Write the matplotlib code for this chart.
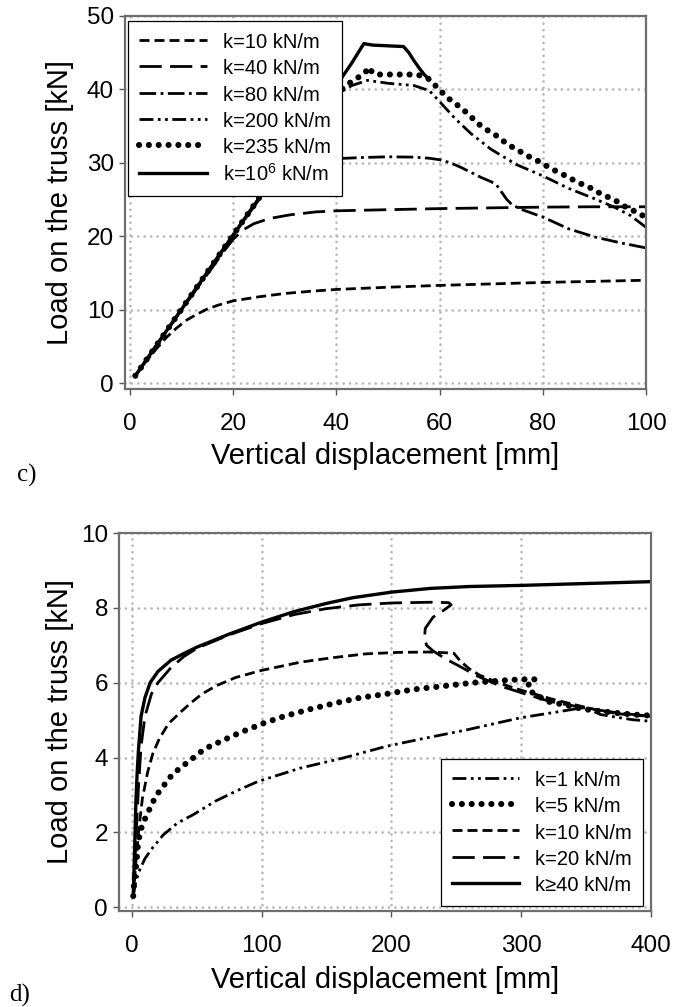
import matplotlib
matplotlib.use("Agg")
import matplotlib.pyplot as plt

plt.rcParams["font.family"] = ["Liberation Sans", "DejaVu Sans"]
plt.rcParams["mathtext.fontset"] = "custom"
plt.rcParams["mathtext.rm"] = "Liberation Sans"
plt.rcParams["mathtext.default"] = "regular"

# ---- panel c) : load vs displacement, x in mm, y in kN ----
c_k10_x = [1, 3, 5, 7, 9, 11, 13, 15, 17, 20, 25, 30, 35, 40, 50, 60, 70, 80, 90, 100]
c_k10_y = [1, 2.9, 4.6, 6.2, 7.5, 8.6, 9.4, 10.1, 10.6, 11.2, 11.75, 12.2, 12.5, 12.75,
           13.05, 13.3, 13.5, 13.7, 13.85, 14.0]

c_k40_x = [1, 5, 10, 14, 16, 18, 20, 22, 24, 27, 31, 36, 40, 50, 60, 70, 80, 90, 100]
c_k40_y = [1, 5, 10, 13.9, 15.8, 17.8, 19.6, 20.9, 21.7, 22.4, 22.9, 23.3, 23.45, 23.6,
           23.75, 23.85, 23.95, 24.0, 24.0]

c_k80_x = [1, 5, 10, 15, 20, 25, 28, 31, 35, 40, 45, 50, 55, 58, 60, 62, 64, 66, 68, 70,
           71, 72, 73, 74, 76, 80, 85, 90, 95, 100]
c_k80_y = [1, 5.05, 10.1, 15.1, 20.1, 25, 27.9, 29.4, 30.2, 30.55, 30.7, 30.8, 30.75, 30.6,
           30.4, 30.0, 29.4, 28.7, 28.0, 27.4, 27.0, 26.0, 25.0, 24.3, 23.6, 22.6, 21.0,
           19.9, 19.1, 18.4]

c_k200_x = [1, 5, 10, 15, 20, 25, 30, 35, 40, 43, 46, 48, 50, 55, 58, 60, 63, 66, 70, 75,
            80, 85, 90, 94, 97, 100]
c_k200_y = [1, 5.05, 10.1, 15.15, 20.2, 25.2, 30.2, 35.1, 39.3, 40.5, 41.2, 41.0, 40.8,
            40.5, 39.8, 38.3, 36.0, 34.0, 31.8, 29.7, 28.2, 26.5, 25.1, 23.9, 22.8, 21.2]

c_k235_x = [1, 5, 10, 15, 20, 25, 30, 35, 40, 42, 44, 45.5, 46.3, 47, 48, 50, 52, 54, 56,
            57.7, 59.75, 61.4, 63.5, 65.6, 67.25, 69.3, 71.4, 73.1, 75.2, 76.8, 78.9, 80.6,
            82.7, 84.75, 86.8, 88.9, 90.6, 92.7, 94.75, 96.4, 98.5, 100]
c_k235_y = [1, 5.05, 10.1, 15.15, 20.2, 25.2, 30.2, 35.1, 39.3, 40.6, 41.5, 42.2, 43.0,
            42.2, 42.0, 42.0, 42.0, 42.0, 41.9, 41.5, 40.1, 38.9, 37.8, 36.6, 35.4, 34.4,
            33.5, 32.5, 31.7, 31.0, 30.3, 29.6, 28.8, 28.1, 27.3, 26.7, 26.0, 25.3, 24.6,
            23.8, 23.2, 22.5]

c_k1e6_x = [1, 5, 10, 15, 20, 25, 30, 35, 40, 43, 45.3, 47, 50, 53, 54, 55, 56, 57, 58]
c_k1e6_y = [1, 5.05, 10.1, 15.15, 20.2, 25.2, 30.3, 35.4, 40.5, 43.6, 46.2, 46.0, 45.9,
            45.8, 45.0, 43.9, 42.9, 42.0, 41.3]

c_labels = ["k=10 kN/m", "k=40 kN/m", "k=80 kN/m", "k=200 kN/m", "k=235 kN/m",
            "k=10$^{6}$ kN/m"]

# ---- panel d) ----
d_k1_x = [1, 3, 6, 10, 15, 24, 35, 47, 64, 80, 97, 130, 163, 196, 222, 258, 299, 335,
          347, 355, 361, 373, 386, 400]
d_k1_y = [0.3, 0.7, 1.0, 1.3, 1.55, 1.93, 2.25, 2.47, 2.83, 3.1, 3.36, 3.72, 3.99, 4.3,
          4.49, 4.74, 5.06, 5.26, 5.33, 5.25, 5.15, 5.08, 5.01, 4.97]

d_k5_x = [1, 1.6, 3.5, 4.3, 6, 8.3, 11.6, 15, 19, 24, 30, 37, 44, 52, 60, 69, 77, 85, 93,
          100, 117, 137, 156, 176, 196, 217, 240, 263, 286, 300, 311, 305, 308, 320, 335,
          347, 361, 374, 386, 400]
d_k5_y = [0.3, 0.67, 1.2, 1.57, 1.97, 2.24, 2.47, 2.74, 3.0, 3.23, 3.5, 3.72, 3.9, 4.13,
          4.3, 4.44, 4.57, 4.69, 4.8, 4.9, 5.1, 5.29, 5.45, 5.6, 5.7, 5.82, 5.91, 6.0, 6.06,
          6.09, 6.09, 5.93, 5.75, 5.5, 5.4, 5.3, 5.24, 5.19, 5.15, 5.12]

d_k10_x = [1, 3, 5, 8, 12, 16, 21, 28, 37, 45, 54, 65, 80, 100, 130, 155, 180, 205, 229,
           248, 253, 260, 268, 280, 295, 310, 325, 345, 365, 380, 400]
d_k10_y = [0.3, 1.2, 2.0, 2.9, 3.6, 4.1, 4.5, 4.9, 5.2, 5.45, 5.7, 5.92, 6.14, 6.33, 6.55,
           6.67, 6.77, 6.81, 6.82, 6.79, 6.58, 6.37, 6.2, 6.03, 5.85, 5.7, 5.55, 5.38, 5.22,
           5.15, 5.1]

d_k20_x = [1, 3, 5, 7, 10, 15, 20, 30, 40, 50, 75, 100, 125, 150, 175, 200, 230, 244, 246,
           240, 232, 226, 225.5, 227, 232, 242, 253, 266, 284, 304, 322, 348, 373, 400]
d_k20_y = [0.3, 1.8, 3.2, 4.3, 5.1, 5.7, 6.0, 6.4, 6.7, 6.92, 7.28, 7.58, 7.82, 7.98, 8.08,
           8.13, 8.15, 8.14, 8.08, 7.93, 7.75, 7.45, 7.2, 7.0, 6.85, 6.63, 6.43, 6.18, 5.91,
           5.69, 5.5, 5.33, 5.2, 5.1]

d_k40_x = [1, 2, 3, 4, 5, 7, 10, 14, 20, 30, 40, 50, 75, 100, 125, 150, 170, 200, 230, 260,
           300, 350, 400]
d_k40_y = [0.3, 1.5, 2.8, 3.6, 4.2, 5.1, 5.6, 6.0, 6.3, 6.6, 6.78, 6.95, 7.3, 7.62, 7.9,
           8.12, 8.27, 8.42, 8.52, 8.57, 8.6, 8.65, 8.7]

d_labels = ["k=1 kN/m", "k=5 kN/m", "k=10 kN/m", "k=20 kN/m", "k\u226540 kN/m"]

# line styles (dash patterns in units of line width)
LW = 2.0
DOT = dict(linestyle=(0, (0.01, 1.6)), lw=4.4, dash_capstyle="round")
SHORT = dict(linestyle=(0, (3.6, 1.8)), lw=LW)
LONG = dict(linestyle=(0, (8, 3)), lw=LW)
DASHDOT = dict(linestyle=(0, (6, 1.6, 1, 1.6)), lw=LW)
DASHDOTDOT = dict(linestyle=(0, (5, 1.6, 1, 1.6, 1, 1.6)), lw=LW)
SOLID = dict(linestyle="-", lw=LW + 0.4)


def style_axes(ax, xlim, ylim, xticks, yticks):
    ax.set_xlim(*xlim)
    ax.set_ylim(*ylim)
    ax.set_xticks(xticks)
    ax.set_yticks(yticks)
    ax.grid(True, color="#b9b9b9", linestyle=(0, (0.01, 2.3)), lw=2.0,
            dash_capstyle="round")
    for s in ax.spines.values():
        s.set_color("#6e6e6e")
        s.set_linewidth(1.6)
    ax.tick_params(direction="out", length=4, width=1, color="#555555",
                   labelsize=17.5)
    ax.tick_params(axis="x", pad=13)
    ax.tick_params(axis="y", pad=4)


def add_legend(ax, handles, labels, loc, anchor):
    leg = ax.legend(handles, labels, loc=loc, bbox_to_anchor=anchor,
                    borderaxespad=0, fontsize=14.5, handlelength=3.35,
                    handleheight=1.05, handletextpad=0.8, labelspacing=0.3,
                    borderpad=0.55, fancybox=False, framealpha=1,
                    edgecolor="black")
    leg.get_frame().set_linewidth(0.9)
    return leg


def label_axes(ax, x_label_y, y_label_x):
    ax.set_xlabel("Vertical displacement [mm]", fontsize=21)
    ax.set_ylabel("Load on the truss [kN]", fontsize=21)
    ax.xaxis.set_label_coords(0.5, x_label_y)
    ax.xaxis.label.set_va("center")
    ax.yaxis.set_label_coords(y_label_x, 0.5)
    ax.yaxis.label.set_va("center")


fig = plt.figure(figsize=(6.73, 10.07), dpi=100)

# ---------------- c) ----------------
ax1 = fig.add_axes([125 / 673, 1 - 389 / 1007, 521 / 673, 373.3 / 1007])
style_axes(ax1, (-1, 100), (-0.8, 50), [0, 20, 40, 60, 80, 100], [0, 10, 20, 30, 40, 50])

h = []
h += ax1.plot(c_k10_x, c_k10_y, color="black", **SHORT)
h += ax1.plot(c_k40_x, c_k40_y, color="black", **LONG)
h += ax1.plot(c_k80_x, c_k80_y, color="black", **DASHDOT)
h += ax1.plot(c_k200_x, c_k200_y, color="black", **DASHDOTDOT)
h += ax1.plot(c_k235_x, c_k235_y, color="black", **DOT)
h += ax1.plot(c_k1e6_x, c_k1e6_y, color="black", **SOLID)
add_legend(ax1, h, c_labels, "upper left", (0.006, 0.986))
label_axes(ax1, (389 - 456) / 373.3, (60 - 125) / 521)

fig.text(27 / 673, 1 - 475 / 1007, "c)", family="Liberation Serif", fontsize=18,
         ha="center", va="center")

# ---------------- d) ----------------
ax2 = fig.add_axes([119 / 673, 1 - 911 / 1007, 532 / 673, 378 / 1007])
style_axes(ax2, (-10, 400), (-0.1, 10), [0, 100, 200, 300, 400], [0, 2, 4, 6, 8, 10])

h = []
h += ax2.plot(d_k1_x, d_k1_y, color="black", **DASHDOTDOT)
h += ax2.plot(d_k5_x, d_k5_y, color="black", **DOT)
h += ax2.plot(d_k10_x, d_k10_y, color="black", **SHORT)
h += ax2.plot(d_k20_x, d_k20_y, color="black", **LONG)
h += ax2.plot(d_k40_x, d_k40_y, color="black", **SOLID)
add_legend(ax2, h, d_labels, "lower right", (0.985, 0.013))
label_axes(ax2, (911 - 980) / 378, (60 - 119) / 532)

fig.text(20 / 673, 1 - 995 / 1007, "d)", family="Liberation Serif", fontsize=18,
         ha="center", va="center")

fig.savefig("out.png", dpi=100)
